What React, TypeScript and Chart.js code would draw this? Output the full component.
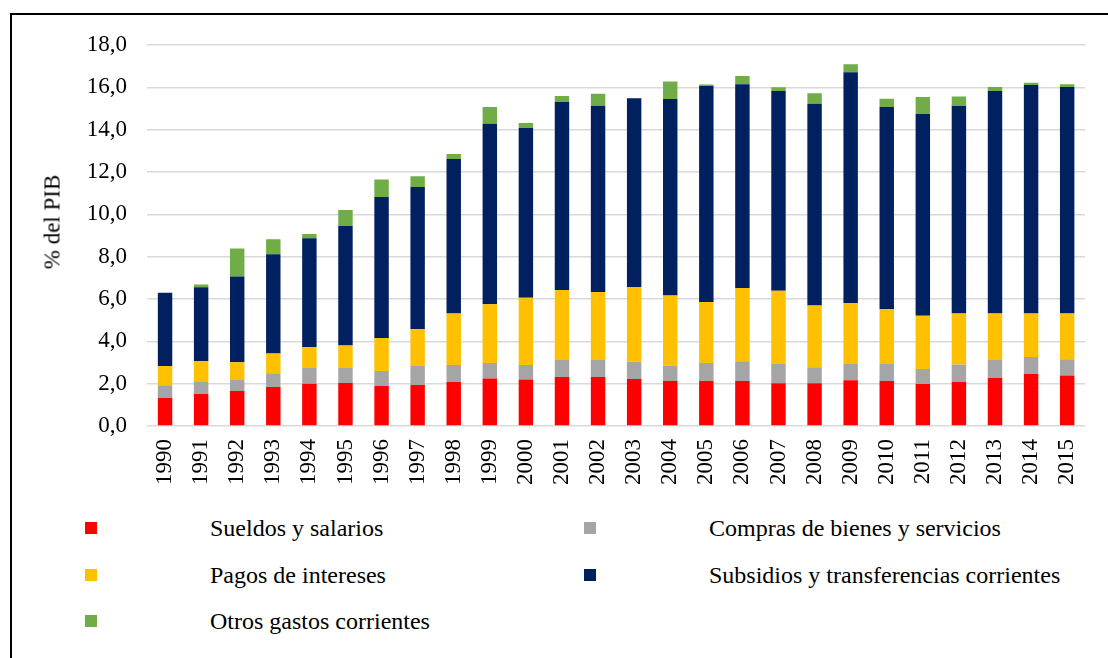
import React, { useEffect, useRef } from "react";
import { Chart, registerables } from "chart.js";

Chart.register(...registerables);

const years = [
  "1990", "1991", "1992", "1993", "1994", "1995", "1996", "1997", "1998", "1999",
  "2000", "2001", "2002", "2003", "2004", "2005", "2006", "2007", "2008", "2009",
  "2010", "2011", "2012", "2013", "2014", "2015",
];

const sueldos = [1.32, 1.51, 1.65, 1.84, 2.0, 2.03, 1.89, 1.94, 2.08, 2.24, 2.2, 2.31, 2.31, 2.22, 2.13, 2.13, 2.13, 2.02, 2.02, 2.16, 2.13, 1.98, 2.08, 2.27, 2.46, 2.39];
const compras = [0.6, 0.57, 0.52, 0.65, 0.74, 0.71, 0.71, 0.89, 0.8, 0.74, 0.68, 0.81, 0.81, 0.82, 0.72, 0.85, 0.93, 0.91, 0.75, 0.77, 0.8, 0.71, 0.83, 0.85, 0.8, 0.76];
const intereses = [0.91, 0.98, 0.84, 0.93, 0.99, 1.06, 1.56, 1.74, 2.43, 2.77, 3.18, 3.31, 3.21, 3.53, 3.32, 2.88, 3.46, 3.46, 2.92, 2.87, 2.6, 2.52, 2.41, 2.2, 2.06, 2.17];
const subsidios = [3.47, 3.49, 4.05, 4.69, 5.14, 5.65, 6.66, 6.72, 7.3, 8.53, 8.02, 8.88, 8.8, 8.91, 9.28, 10.2, 9.62, 9.44, 9.54, 10.91, 9.54, 9.53, 9.8, 10.51, 10.79, 10.7];
const otros = [0.0, 0.14, 1.32, 0.71, 0.2, 0.75, 0.83, 0.51, 0.24, 0.79, 0.23, 0.28, 0.57, 0.0, 0.83, 0.07, 0.4, 0.17, 0.49, 0.38, 0.39, 0.8, 0.45, 0.19, 0.11, 0.12];

const seriesNames = [
  "Sueldos y salarios",
  "Compras de bienes y servicios",
  "Pagos de intereses",
  "Subsidios y transferencias corrientes",
  "Otros gastos corrientes",
];
const seriesColors = ["#FF0000", "#A5A5A5", "#FFC000", "#002060", "#70AD47"];
const seriesData = [sueldos, compras, intereses, subsidios, otros];

const yTicks = [0, 2, 4, 6, 8, 10, 12, 14, 16, 18];
const yTitle = "% del PIB";

const FONT = '"Liberation Serif", "Times New Roman", serif';

// legend layout: [seriesIndex, column, row]
const legendLayout: [number, number, number][] = [
  [0, 0, 0],
  [1, 1, 0],
  [2, 0, 1],
  [3, 1, 1],
  [4, 0, 2],
];

export default function App() {
  const canvasRef = useRef<HTMLCanvasElement | null>(null);

  useEffect(() => {
    document.body.style.margin = "0";
    const ctx = canvasRef.current;
    if (!ctx) return;
    const chart = new Chart(ctx, {
      type: "bar",
      data: {
        labels: years,
        datasets: seriesData.map((d, i) => ({
          label: seriesNames[i],
          data: d,
          backgroundColor: seriesColors[i],
          borderWidth: 0,
          barPercentage: 0.4,
          categoryPercentage: 1,
        })),
      },
      options: {
        animation: false,
        responsive: false,
        maintainAspectRatio: false,
        layout: { padding: { left: 0, right: 12, top: 45, bottom: 0 } },
        plugins: {
          legend: { display: false },
          tooltip: { enabled: false },
          title: { display: false },
        },
        scales: {
          x: {
            stacked: true,
            grid: { display: false, drawTicks: false },
            border: { display: false },
            ticks: {
              minRotation: 90,
              maxRotation: 90,
              autoSkip: false,
              padding: 13,
              color: "#000",
              font: { family: FONT, size: 23 },
            },
            afterFit: (scale: any) => {
              scale.height = 74;
            },
          },
          y: {
            stacked: true,
            min: 0,
            max: 18,
            afterBuildTicks: (scale: any) => {
              scale.ticks = yTicks.map((v) => ({ value: v }));
            },
            grid: { color: "#D9D9D9", lineWidth: 1.5, drawTicks: false },
            border: { display: false },
            ticks: {
              padding: 20,
              color: "#000",
              font: { family: FONT, size: 23 },
              callback: (v: any) => Number(v).toFixed(1).replace(".", ","),
            },
            afterFit: (scale: any) => {
              scale.width = 147;
            },
          },
        },
      },
    });
    return () => chart.destroy();
  }, []);

  return (
    <div
      style={{
        position: "fixed",
        left: 0,
        top: 0,
        width: 1108,
        height: 658,
        overflow: "hidden",
        background: "#fff",
        fontFamily: FONT,
      }}
    >
      <div
        style={{
          position: "absolute",
          left: 10,
          top: 13,
          width: 1110,
          height: 660,
          border: "2px solid #000",
          boxSizing: "border-box",
        }}
      />
      <canvas
        ref={canvasRef}
        width={1108}
        height={500}
        style={{ position: "absolute", left: 0, top: 0, width: 1108, height: 500 }}
      />
      <div
        style={{
          position: "absolute",
          left: 52,
          top: 222,
          transform: "translate(-50%, -50%) rotate(-90deg)",
          fontSize: 23,
          whiteSpace: "nowrap",
          color: "#000",
          lineHeight: 1,
        }}
      >
        {yTitle}
      </div>
      {legendLayout.map(([si, col, row]) => {
        const cy = [528, 575, 621][row];
        const boxX = col === 0 ? 85 : 584;
        const textX = col === 0 ? 210 : 709;
        return (
          <React.Fragment key={si}>
            <div
              style={{
                position: "absolute",
                left: boxX,
                top: cy - 6,
                width: 12,
                height: 12,
                background: seriesColors[si],
              }}
            />
            <div
              style={{
                position: "absolute",
                left: textX,
                top: cy - 14,
                height: 28,
                lineHeight: "28px",
                fontSize: 24,
                whiteSpace: "nowrap",
                color: "#000",
              }}
            >
              {seriesNames[si]}
            </div>
          </React.Fragment>
        );
      })}
    </div>
  );
}
